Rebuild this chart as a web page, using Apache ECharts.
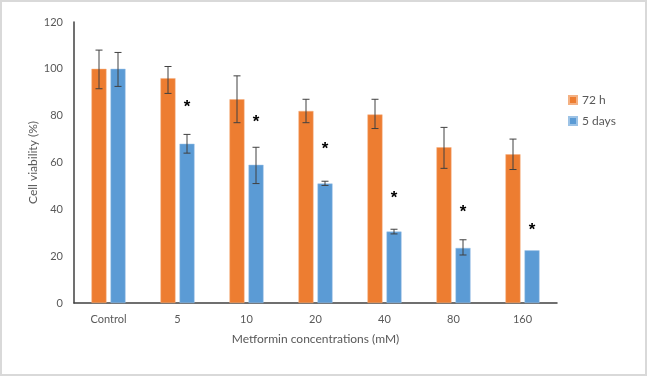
<!DOCTYPE html>
<html>

<head>
    <meta charset="UTF-8">
    <title>Cell viability</title>
    <style>
        body { margin: 0; background: #fff; }
    </style>
</head>

<body>
    <div id="container" style="width: 647px;height: 376px;"></div>
    <script src="https://cdn.jsdelivr.net/npm/echarts@6/dist/echarts.min.js"></script>
    <script type="text/javascript">
        // data
        var categories = ['Control', '5', '10', '20', '40', '80', '160'];
        var h72 = [100, 96, 87, 82, 80.5, 66.5, 63.5];
        var days5 = [100, 68, 59, 51, 30.5, 23.5, 22.5];
        var h72High = [108, 101, 97, 87, 87, 75, 70];
        var h72Low = [91.5, 89.5, 77, 77, 74.5, 57.5, 57];
        var days5High = [107, 72, 66.5, 52, 31.5, 27, null];
        var days5Low = [92.5, 64, 51, 50.2, 29.5, 20.5, null];
        var starY = [null, 85, 78.5, 67, 46, 40, 32.5]; // where the * marks sit
        var yTicks = [0, 20, 40, 60, 80, 100, 120];

        var textColor = '#595959';
        var font = 'Lato';

        function errData(hi, lo) {
            var out = [];
            for (var i = 0; i < categories.length; i++) {
                if (hi[i] != null) out.push([i, hi[i], lo[i]]);
            }
            return out;
        }

        // renderItem for error bars, shifted onto one bar of the pair
        function errRender(offset) {
            return function (params, api) {
                var top = api.coord([api.value(0), api.value(1)]);
                var bot = api.coord([api.value(0), api.value(2)]);
                var x = top[0] + offset;
                var cap = 3.5;
                var style = { stroke: '#404040', lineWidth: 1 };
                return {
                    type: 'group',
                    children: [
                        { type: 'line', shape: { x1: x, y1: top[1], x2: x, y2: bot[1] }, style: style },
                        { type: 'line', shape: { x1: x - cap, y1: top[1], x2: x + cap, y2: top[1] }, style: style },
                        { type: 'line', shape: { x1: x - cap, y1: bot[1], x2: x + cap, y2: bot[1] }, style: style }
                    ]
                };
            };
        }

        var starData = [];
        for (var i = 0; i < categories.length; i++) {
            if (starY[i] != null) starData.push([i, starY[i]]);
        }

        var myChart = echarts.init(document.getElementById('container'));
        var option = {
            backgroundColor: '#fff',
            animation: false,
            textStyle: { fontFamily: font },
            graphic: [{
                type: 'rect',
                shape: { x: 1, y: 1, width: 645, height: 374 },
                style: { fill: 'none', stroke: '#d9d9d9', lineWidth: 2 },
                silent: true
            }],
            grid: {
                left: 74,
                right: 90,
                top: 22,
                bottom: 73
            },
            legend: {
                orient: 'vertical',
                left: 563,
                top: 89,
                itemWidth: 8,
                itemHeight: 8,
                itemGap: 9,
                icon: 'rect',
                textStyle: { color: textColor, fontSize: 12, fontFamily: font },
                data: ['72 h', '5 days']
            },
            xAxis: {
                type: 'category',
                data: categories,
                name: 'Metformin concentrations (mM)',
                nameLocation: 'middle',
                nameGap: 30,
                nameMoveOverlap: false,
                nameTextStyle: { color: textColor, fontSize: 12, fontFamily: font },
                axisLine: { lineStyle: { color: '#404040', width: 1.5 } },
                axisTick: { show: false },
                axisLabel: { color: textColor, fontSize: 11, margin: 11, fontFamily: font }
            },
            yAxis: {
                type: 'value',
                min: yTicks[0],
                max: yTicks[yTicks.length - 1],
                interval: 20,
                name: 'Cell viability (%)',
                nameLocation: 'middle',
                nameGap: 35,
                nameMoveOverlap: false,
                nameTextStyle: { color: textColor, fontSize: 12, fontFamily: font },
                splitLine: { show: false },
                axisLine: { show: true, lineStyle: { color: '#404040', width: 1.5 } },
                axisTick: { show: false },
                axisLabel: { color: textColor, fontSize: 11, margin: 11, fontFamily: font }
            },
            series: [{
                name: '72 h',
                type: 'bar',
                data: h72,
                barWidth: 15,
                barGap: '27%',
                itemStyle: { color: '#ED7D31', borderColor: '#f4b183', borderWidth: 0.5 }
            }, {
                name: '5 days',
                type: 'bar',
                data: days5,
                barWidth: 15,
                itemStyle: { color: '#5B9BD5', borderColor: '#9dc3e6', borderWidth: 0.5 }
            }, {
                name: 'err72',
                type: 'custom',
                data: errData(h72High, h72Low),
                encode: { x: 0, y: [1, 2] },
                renderItem: errRender(-9.5),
                z: 5
            }, {
                name: 'err5',
                type: 'custom',
                data: errData(days5High, days5Low),
                encode: { x: 0, y: [1, 2] },
                renderItem: errRender(9.5),
                z: 5
            }, {
                name: 'stars',
                type: 'custom',
                data: starData,
                encode: { x: 0, y: 1 },
                renderItem: function (params, api) {
                    var p = api.coord([api.value(0), api.value(1)]);
                    return {
                        type: 'text',
                        x: p[0] + 9.5,
                        y: p[1] + 3,
                        style: {
                            text: '*',
                            fill: '#000',
                            font: 'bold 17px "Liberation Sans"',
                            align: 'center',
                            verticalAlign: 'middle'
                        }
                    };
                },
                z: 5
            }]
        };
        myChart.setOption(option);
    </script>
</body>

</html>
